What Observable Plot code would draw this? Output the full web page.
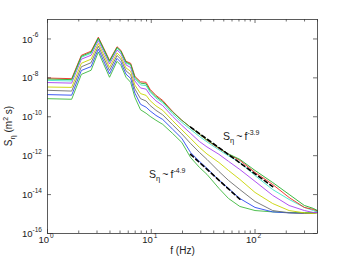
<!DOCTYPE html>
<html><head><meta charset="utf-8">
<script src="https://cdn.jsdelivr.net/npm/d3@7"></script>
<script src="https://cdn.jsdelivr.net/npm/@observablehq/plot@0.6"></script>
<style>html,body{margin:0;padding:0;background:#fff;} svg{display:block}</style>
</head><body><div id="chart"></div>
<script>
// frequencies (Hz)
const freq = [1, 1.71, 2.12, 2.63, 3.09, 3.45, 3.96, 4.68, 5.09, 5.71, 6.33, 6.95, 7.88, 8.92, 9.75, 11.1, 12.9, 16, 19.7, 23.9, 29.1, 34.4, 44.9, 55.5, 71.4, 100, 148, 213, 299, 364, 400];
// log10 of S_eta (m^2 s) for each series
const logRed     = [-8.01,-8.04,-6.84,-6.63,-5.91,-6.43,-7.10,-6.40,-6.58,-7.15,-7.25,-7.92,-8.20,-8.23,-8.59,-8.90,-9.16,-9.72,-10.18,-10.54,-10.90,-11.21,-11.63,-11.93,-12.24,-12.86,-13.48,-14.15,-14.66,-14.76,-14.84];
const logGreen1  = [-8.06,-8.09,-6.89,-6.68,-5.95,-6.47,-7.14,-6.44,-6.62,-7.19,-7.30,-7.97,-8.27,-8.31,-8.66,-8.96,-9.22,-9.75,-10.18,-10.54,-10.90,-11.19,-11.60,-11.91,-12.19,-12.76,-13.38,-13.99,-14.56,-14.71,-14.82];
const logCyan    = [-8.13,-8.16,-6.94,-6.74,-6.00,-6.52,-7.19,-6.48,-6.67,-7.24,-7.35,-8.04,-8.36,-8.40,-8.74,-9.04,-9.29,-9.84,-10.29,-10.65,-11.01,-11.29,-11.70,-12.01,-12.35,-13.02,-13.74,-14.25,-14.66,-14.82,-14.87];
const logMagenta = [-8.24,-8.27,-7.04,-6.84,-6.08,-6.61,-7.29,-6.57,-6.75,-7.33,-7.47,-8.16,-8.52,-8.58,-8.89,-9.18,-9.43,-9.97,-10.44,-10.85,-11.27,-11.55,-11.93,-12.29,-12.71,-13.32,-14.04,-14.56,-14.82,-14.92,-14.92];
const logYellow  = [-8.47,-8.49,-7.25,-7.04,-6.23,-6.77,-7.46,-6.72,-6.91,-7.49,-7.66,-8.37,-8.81,-8.90,-9.17,-9.44,-9.67,-10.19,-10.67,-11.11,-11.57,-11.91,-12.35,-12.76,-13.22,-13.89,-14.46,-14.82,-14.94,-14.97,-14.94];
const logGray    = [-8.64,-8.68,-7.43,-7.22,-6.37,-6.92,-7.62,-6.85,-7.04,-7.64,-7.84,-8.57,-9.07,-9.19,-9.42,-9.67,-9.90,-10.40,-10.88,-11.37,-11.83,-12.19,-12.81,-13.27,-13.74,-14.35,-14.82,-14.94,-14.97,-14.97,-14.92];
const logBlue    = [-8.86,-8.89,-7.62,-7.42,-6.52,-7.09,-7.80,-7.00,-7.20,-7.81,-8.03,-8.78,-9.36,-9.51,-9.70,-9.93,-10.14,-10.63,-11.11,-11.83,-12.29,-12.65,-13.25,-13.68,-14.20,-14.66,-14.89,-14.94,-14.97,-14.97,-14.92];
const logGreen2  = [-9.07,-9.10,-7.82,-7.61,-6.67,-7.25,-7.97,-7.15,-7.35,-7.97,-8.23,-9.00,-9.64,-9.82,-9.98,-10.18,-10.39,-10.85,-11.32,-12.09,-12.60,-12.96,-13.68,-14.20,-14.61,-14.82,-14.89,-14.92,-14.92,-14.92,-14.87];
// power-law fit segments (endpoints)
const fit39Freq = [23.9, 148];
const fit39Log  = [-10.53, -13.59];
const fit49Freq = [23.9, 71.4];
const fit49Log  = [-11.93, -14.24];
// ticks
const xMajor = [1, 10, 100];
const xMajorExp = ["0", "1", "2"];
const xMinor = [2,3,4,5,6,7,8,9,20,30,40,50,60,70,80,90,200,300,400];
const yTicks = [1e-16, 1e-14, 1e-12, 1e-10, 1e-8, 1e-6];
const yTickExp = ["-16", "-14", "-12", "-10", "-8", "-6"];

const toRows = (vals) => freq.map((f, i) => ({f, S: 10 ** vals[i]}));
const fitRows = (fs, ls) => fs.map((f, i) => ({f, S: 10 ** ls[i]}));

const lineSpecs = [
  [logGreen2, "#3cb83c"],
  [logBlue, "#2a48f0"],
  [logGray, "#6e6e6e"],
  [logYellow, "#c8d400"],
  [logMagenta, "#a640f0"],
  [logCyan, "#3ee6c8"],
  [logRed, "#f0281e"],
  [logGreen1, "#22b02a"]
];

const W = 350, H = 263, ML = 47, MR = 33, MT = 19, MB = 30;
const FW = W - ML - MR, FH = H - MT - MB;
const fs = 9.5, fsExp = 6.5;

const plot = Plot.plot({
  width: W, height: H,
  marginLeft: ML, marginRight: MR, marginTop: MT, marginBottom: MB,
  style: {fontFamily: "'Liberation Sans', Arial, sans-serif", background: "#fff", color: "#222"},
  x: {type: "log", domain: [1, 400], axis: null},
  y: {type: "log", domain: [1e-16, 1e-5], axis: null},
  marks: [
    ...lineSpecs.map(([v, c]) => Plot.line(toRows(v), {x: "f", y: "S", stroke: c, strokeWidth: 0.9})),
    Plot.line(fitRows(fit39Freq, fit39Log), {x: "f", y: "S", stroke: "#000", strokeWidth: 1.6, strokeDasharray: "4,3"}),
    Plot.line(fitRows(fit49Freq, fit49Log), {x: "f", y: "S", stroke: "#000", strokeWidth: 1.6, strokeDasharray: "4,3"}),
    Plot.frame({stroke: "#333", strokeWidth: 0.8}),
    // inward ticks
    Plot.tickX(xMajor, {x: d => d, insetTop: FH - 4, stroke: "#333", strokeWidth: 0.7}),
    Plot.tickX(xMajor, {x: d => d, insetBottom: FH - 4, stroke: "#333", strokeWidth: 0.7}),
    Plot.tickX(xMinor, {x: d => d, insetTop: FH - 2.5, stroke: "#333", strokeWidth: 0.7}),
    Plot.tickX(xMinor, {x: d => d, insetBottom: FH - 2.5, stroke: "#333", strokeWidth: 0.7}),
    Plot.tickY(yTicks, {y: d => d, insetRight: FW - 4, stroke: "#333", strokeWidth: 0.7}),
    Plot.tickY(yTicks, {y: d => d, insetLeft: FW - 4, stroke: "#333", strokeWidth: 0.7}),
    // tick labels
    Plot.text(xMajor, {x: d => d, text: () => "10", frameAnchor: "bottom", dy: 9, dx: 1.5, textAnchor: "end", fontSize: fs, fill: "#222"}),
    Plot.text(xMajor, {x: d => d, text: (d, i) => xMajorExp[i], frameAnchor: "bottom", dy: 4.5, dx: 2.5, textAnchor: "start", fontSize: fsExp, fill: "#222"}),
    Plot.text(yTicks, {y: d => d, text: () => "10", frameAnchor: "left", dx: -25.5, dy: 0.5, textAnchor: "start", fontSize: fs, fill: "#222"}),
    Plot.text(yTicks, {y: d => d, text: (d, i) => yTickExp[i], frameAnchor: "left", dx: -15, dy: -4, textAnchor: "start", fontSize: fsExp, fill: "#222"}),
    Plot.text(["f (Hz)"], {frameAnchor: "bottom", dy: 20, fontSize: 10, fill: "#222"})
  ]
});

document.getElementById("chart").appendChild(plot);

// rich-text labels (subscripts / superscripts)
const svg = d3.select(plot);
const xs = plot.scale("x"), ys = plot.scale("y");
function powerLabel(f, logS, exp) {
  const t = svg.append("text")
    .attr("x", xs.apply(f)).attr("y", ys.apply(10 ** logS))
    .attr("text-anchor", "start")
    .attr("font-size", 10.5).attr("fill", "#222");
  t.append("tspan").text("S");
  t.append("tspan").attr("font-size", 7.5).attr("dy", 3).text("η");
  t.append("tspan").attr("dy", -3).text("\u2009~\u2009f");
  t.append("tspan").attr("font-size", 7).attr("dy", -5).text(exp);
}
powerLabel(49.6, -11.21, "-3.9");
powerLabel(9.61, -13.17, "-4.9");

const yl = svg.append("text")
  .attr("transform", `translate(12,${MT + FH / 2}) rotate(-90)`)
  .attr("text-anchor", "middle").attr("font-size", 10).attr("fill", "#222");
yl.append("tspan").text("S");
yl.append("tspan").attr("font-size", 7.5).attr("dy", 3).text("η");
yl.append("tspan").attr("dy", -3).text(" (m");
yl.append("tspan").attr("font-size", 7).attr("dy", -4).text("2");
yl.append("tspan").attr("dy", 4).text(" s)");
</script>
</body></html>
